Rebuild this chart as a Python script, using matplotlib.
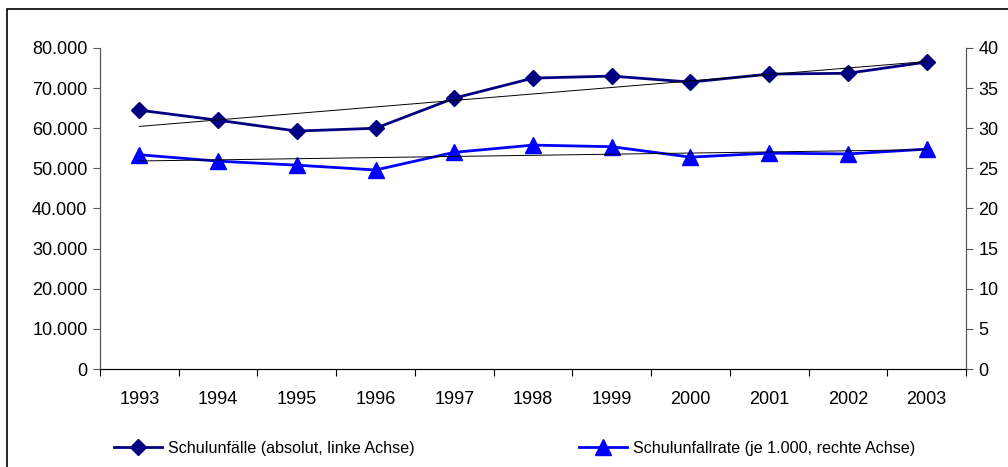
import matplotlib
matplotlib.use("Agg")
import matplotlib.pyplot as plt
import matplotlib.patches as mpatches
from matplotlib.ticker import FuncFormatter
import numpy as np

plt.rcParams['font.family'] = ['Liberation Sans', 'DejaVu Sans']

jahre = ['1993', '1994', '1995', '1996', '1997', '1998', '1999', '2000', '2001', '2002', '2003']
unfaelle = [64500, 62000, 59300, 60000, 67500, 72500, 73000, 71500, 73500, 73700, 76500]
rate = [26.7, 25.9, 25.4, 24.8, 27.0, 27.9, 27.7, 26.4, 26.9, 26.8, 27.4]

x = np.arange(len(jahre))

fig = plt.figure(figsize=(10.08, 4.67), dpi=100)
# outer frame (runs past the right and bottom edge)
fig.patches.append(mpatches.Rectangle((7/1008, -0.1), 1.1, 0.1 + (467-9)/467,
                                      transform=fig.transFigure, fill=False,
                                      edgecolor='black', linewidth=1.2))

ax = fig.add_axes([100/1008, (467-369)/467, 866/1008, 321/467])
ax2 = ax.twinx()

l1, = ax.plot(x, unfaelle, color='#000080', linewidth=2, marker='D', markersize=8,
              label='Schulunfälle (absolut, linke Achse)', zorder=3)
l2, = ax2.plot(x, rate, color='#0000FF', linewidth=2, marker='^', markersize=11,
               label='Schulunfallrate (je 1.000, rechte Achse)', zorder=3)

# linear trend lines
p1 = np.polyfit(x, unfaelle, 1)
ax.plot(x, np.polyval(p1, x), color='black', linewidth=0.7, zorder=4)
p2 = np.polyfit(x, rate, 1)
ax2.plot(x, np.polyval(p2, x), color='black', linewidth=0.7, zorder=4)

ax.set_xlim(-0.5, len(jahre) - 0.5)
ax.set_ylim(0, 80000)
ax2.set_ylim(0, 40)
ax.set_yticks(range(0, 80001, 10000))
ax2.set_yticks(range(0, 41, 5))
ax.yaxis.set_major_formatter(FuncFormatter(lambda v, p: f"{int(v):,}".replace(',', '.')))

ax.set_xticks(np.arange(-0.5, len(jahre), 1))
ax.set_xticklabels([])
ax.set_xticks(x, minor=True)
ax.set_xticklabels(jahre, minor=True)
ax.tick_params(axis='x', which='minor', length=0, pad=16, labelsize=13)
ax.tick_params(axis='x', which='major', length=5, color='black', direction='out')
ax.tick_params(axis='y', length=5, color='#555555', labelsize=13, pad=4)
ax2.tick_params(axis='y', length=5, color='#555555', labelsize=13, pad=4)

for a in (ax, ax2):
    a.spines['top'].set_visible(False)
    a.spines['left'].set_color('#555555')
    a.spines['right'].set_color('#555555')
    a.spines['bottom'].set_color('black')
    a.patch.set_visible(False)

fig.legend(handles=[l1], loc='center left', bbox_to_anchor=(99/1008, 1 - 448/467),
           frameon=False, fontsize=11.6, handlelength=3.0, handletextpad=0.4)
fig.legend(handles=[l2], loc='center left', bbox_to_anchor=(564/1008, 1 - 448/467),
           frameon=False, fontsize=11.6, handlelength=3.0, handletextpad=0.4)

fig.savefig('out.png', dpi=100)
